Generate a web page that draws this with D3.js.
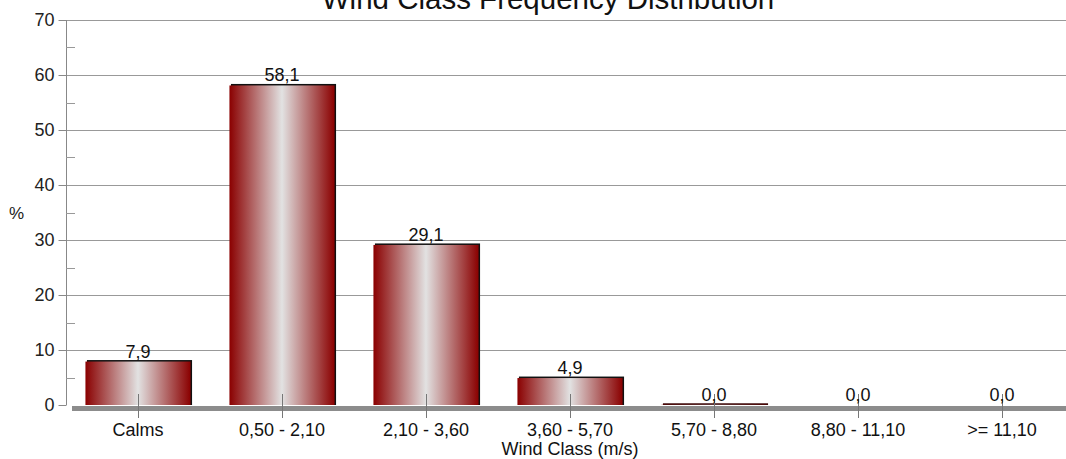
<!DOCTYPE html>
<html>
<head>
<meta charset="utf-8">
<script src="https://cdn.jsdelivr.net/npm/d3@7"></script>
<style>
  body { margin: 0; background: #fff; }
  svg { font-family: "Liberation Sans", Arial, sans-serif; display: block; }
</style>
</head>
<body>
<svg id="chart"></svg>
<script>
const categories = ["Calms", "0,50 - 2,10", "2,10 - 3,60", "3,60 - 5,70", "5,70 - 8,80", "8,80 - 11,10", ">= 11,10"];
const values = [7.9, 58.1, 29.1, 4.9, 0.04, 0, 0];
const yTicks = [0, 10, 20, 30, 40, 50, 60, 70];

(function () {
  const w = 1066;
  const h = 459;
  const margin = { top: 20, left: 66, bottom: 54 };
  const plotRight = 1074; // plot runs a little past the window edge

  const svg = d3.select("#chart").attr("width", w).attr("height", h);

  const defs = svg.append("defs");
  const grad = defs.append("linearGradient").attr("id", "barGrad")
    .attr("x1", "0%").attr("x2", "100%").attr("y1", "0%").attr("y2", "0%");
  grad.append("stop").attr("offset", "0%").attr("stop-color", "#8a0000");
  grad.append("stop").attr("offset", "50%").attr("stop-color", "#e2e2e2");
  grad.append("stop").attr("offset", "100%").attr("stop-color", "#8a0000");

  const x = d3.scaleBand().domain(categories).range([margin.left, plotRight]).paddingInner(0.27).paddingOuter(0.135);
  const y = d3.scaleLinear().domain([0, 70]).range([h - margin.bottom, margin.top]);
  const y0 = y(0);

  // title (partly cut off at the top, as in the original)
  svg.append("text")
    .attr("x", 548).attr("y", 9)
    .attr("text-anchor", "middle")
    .attr("font-size", 29.5)
    .attr("fill", "#111")
    .text("Wind Class Frequency Distribution");

  // gridlines
  svg.append("g").selectAll("line").data(yTicks.filter((d) => d > 0)).join("line")
    .attr("x1", margin.left).attr("x2", w)
    .attr("y1", (d) => y(d) + 0.5).attr("y2", (d) => y(d) + 0.5)
    .attr("stroke", "#999").attr("stroke-width", 1);

  // floor shadow
  svg.append("rect")
    .attr("x", 72).attr("y", y0 + 1).attr("width", w - 72).attr("height", 5)
    .attr("fill", "#8c8c8c");

  // y axis
  const yAxis = d3.axisLeft(y).tickValues(yTicks).tickSize(8).tickPadding(4);
  const gy = svg.append("g").attr("transform", `translate(${margin.left + 0.5},0)`).call(yAxis);
  gy.select(".domain").attr("stroke", "#888").attr("d", `M0,${y(70)}V${y0}`);
  gy.selectAll(".tick line").attr("stroke", "#888");
  gy.selectAll(".tick text").attr("font-size", 18).attr("fill", "#222")
    .attr("font-family", "Liberation Sans, Arial, sans-serif");

  // minor ticks
  const minor = d3.range(5, 70, 10);
  svg.append("g").selectAll("line").data(minor).join("line")
    .attr("x1", margin.left).attr("x2", margin.left + 9)
    .attr("y1", (d) => Math.round(y(d)) + 0.5).attr("y2", (d) => Math.round(y(d)) + 0.5)
    .attr("stroke", "#999");

  // y title
  svg.append("text").attr("x", 9).attr("y", 219).attr("font-size", 17).attr("fill", "#222").text("%");

  // bars
  const bars = svg.append("g").selectAll("g").data(values).join("g");
  bars.append("rect")
    .attr("x", (d, i) => x(categories[i]) + 1.5)
    .attr("y", (d) => y(d) - 1.5)
    .attr("width", x.bandwidth())
    .attr("height", (d) => (d > 0 ? y0 - y(d) + 1.5 : 0))
    .attr("fill", (d) => (d > 0.5 ? "#111" : "#3a0606"));
  bars.append("rect")
    .attr("x", (d, i) => x(categories[i]))
    .attr("y", (d) => y(d))
    .attr("width", x.bandwidth())
    .attr("height", (d) => y0 - y(d))
    .attr("fill", "url(#barGrad)");

  // category tick marks
  svg.append("g").selectAll("line").data(categories).join("line")
    .attr("x1", (d) => x(d) + x.bandwidth() / 2 + 0.5).attr("x2", (d) => x(d) + x.bandwidth() / 2 + 0.5)
    .attr("y1", y0 - 11).attr("y2", y0 + 13)
    .attr("stroke", "#777");

  // value labels
  svg.append("g").selectAll("text").data(values).join("text")
    .attr("x", (d, i) => x(categories[i]) + x.bandwidth() / 2)
    .attr("y", (d) => y(d) - 4)
    .attr("text-anchor", "middle")
    .attr("font-size", 18)
    .attr("fill", "#111")
    .text((d) => d.toFixed(1).replace(".", ","));

  // category labels
  svg.append("g").selectAll("text").data(categories).join("text")
    .attr("x", (d) => x(d) + x.bandwidth() / 2)
    .attr("y", 436)
    .attr("text-anchor", "middle")
    .attr("font-size", 18)
    .attr("fill", "#111")
    .text((d) => d);

  svg.append("text")
    .attr("x", 570).attr("y", 455)
    .attr("text-anchor", "middle")
    .attr("font-size", 18)
    .attr("fill", "#111")
    .text("Wind Class (m/s)");
})();
</script>
</body>
</html>
